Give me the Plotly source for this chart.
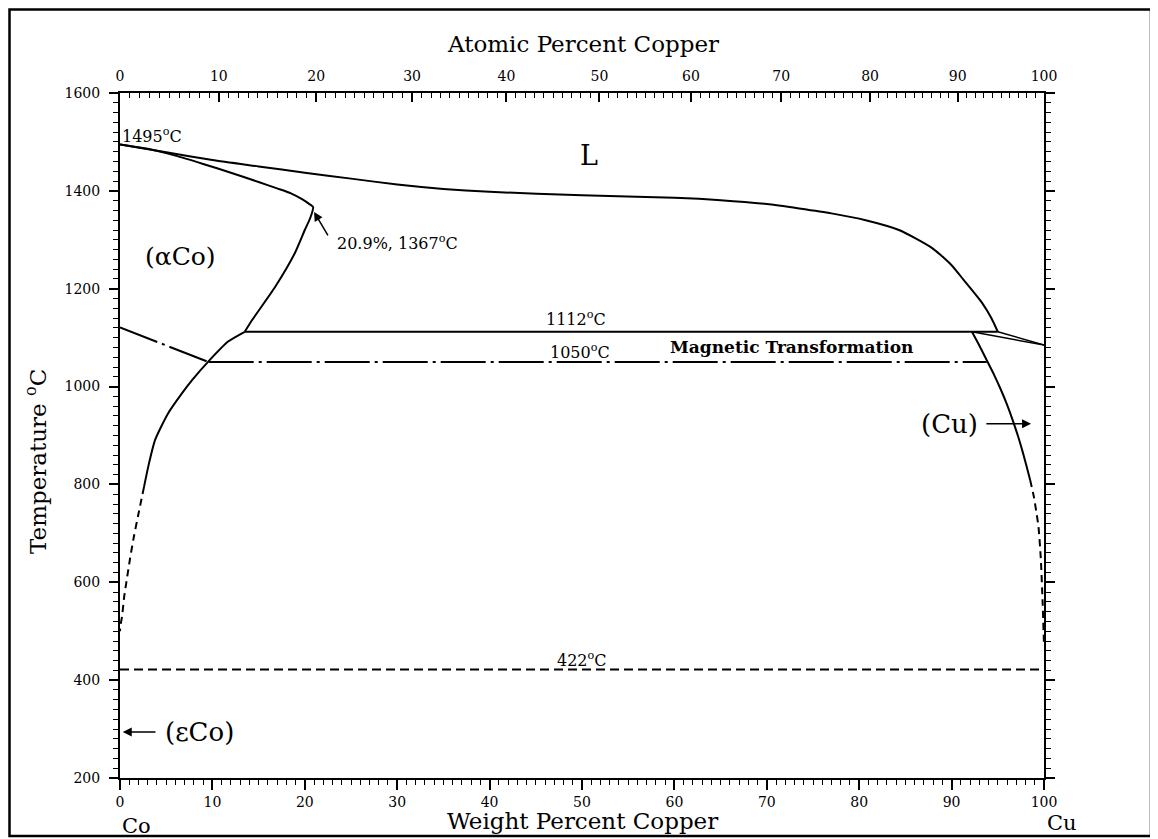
import plotly.graph_objects as go

# ---------------- data (wt% Cu, temperature in °C) ----------------
liquidus_wt = [0, 5, 10, 15, 20, 25, 30, 35, 40, 50, 60, 65, 70, 73.5, 77, 80.7, 84.3, 87.9, 90, 91.3, 93.3, 94.3, 95.0]
liquidus_T = [1495, 1479, 1463, 1450, 1437, 1425, 1413, 1404, 1398, 1391, 1386, 1381, 1373, 1364, 1354, 1340, 1320, 1283, 1248, 1218, 1171, 1140, 1112]

cu_liquidus_wt = [95.0, 100]
cu_liquidus_T = [1112, 1084.87]
cu_solidus_wt = [92.2, 100]
cu_solidus_T = [1112, 1084.87]

alpha_solidus_wt = [0, 3, 6, 9, 12, 15, 17, 18.5, 19.7, 20.5, 20.9, 20.6, 20.0, 18.9, 16.8, 14.3, 13.5]
alpha_solidus_T = [1495, 1486, 1472, 1455, 1437, 1418, 1405, 1395, 1383, 1373, 1367, 1345, 1320, 1272, 1204, 1136, 1112]

alpha_solvus_wt = [13.5, 11.7, 9.6, 7.8, 6.7, 5.2, 3.8, 3.1, 2.6]
alpha_solvus_T = [1112, 1092, 1052, 1013, 986, 945, 891, 840, 795]
alpha_solvus_dash_wt = [2.6, 2.0, 1.5, 1.1, 0.78, 0.45, 0.22, 0.05, 0]
alpha_solvus_dash_T = [795, 740, 693, 650, 611, 570, 530, 512, 500]

cu_solvus_wt = [92.2, 93.0, 93.8, 94.6, 95.3, 96.0, 96.6, 97.2, 97.7, 98.1, 98.5]
cu_solvus_T = [1112, 1084, 1054, 1024, 995, 963, 932, 898, 866, 838, 809]
cu_solvus_dash_wt = [98.5, 98.9, 99.2, 99.4, 99.65, 99.85, 100]
cu_solvus_dash_T = [809, 775, 740, 714, 650, 560, 470]

peritectic_wt = [13.5, 95.0]
peritectic_T = [1112, 1112]

magnetic_slope_wt = [0, 9.6]
magnetic_slope_T = [1121, 1050]
magnetic_wt = [9.6, 93.8]
magnetic_T = [1050, 1050]

eutectoid_wt = [0, 100]
eutectoid_T = [422, 422]

wt_ticks = list(range(0, 101, 10))
at_ticks = list(range(0, 101, 10))
at_minor = list(range(0, 101, 1))
temp_ticks = list(range(200, 1601, 200))

M_CO = 58.933
M_CU = 63.546


def at_to_wt(a):
    if a <= 0:
        return 0.0
    if a >= 100:
        return 100.0
    return 100.0 * a * M_CU / (a * M_CU + (100 - a) * M_CO)


fig = go.Figure()


def line(x, y, dash="solid", width=2, smooth=False):
    ln = dict(color="black", width=width, dash=dash)
    if smooth:
        ln.update(shape="spline", smoothing=0.6)
    fig.add_trace(go.Scatter(x=x, y=y, mode="lines", line=ln,
                             hoverinfo="skip", showlegend=False))


line(liquidus_wt, liquidus_T, smooth=True)
line(cu_liquidus_wt, cu_liquidus_T, width=1.5)
line(cu_solidus_wt, cu_solidus_T, width=1.5)
line(alpha_solidus_wt, alpha_solidus_T, smooth=True)
line(alpha_solvus_wt, alpha_solvus_T, smooth=True)
line(alpha_solvus_dash_wt, alpha_solvus_dash_T, dash="7px,5px", smooth=True)
line(cu_solvus_wt, cu_solvus_T, smooth=True)
line(cu_solvus_dash_wt, cu_solvus_dash_T, dash="7px,5px", smooth=True)
line(peritectic_wt, peritectic_T)
line(magnetic_slope_wt, magnetic_slope_T, dash="40px,5px,3px,5px")
line(magnetic_wt, magnetic_T, dash="45px,5px,3px,5px")
line(eutectoid_wt, eutectoid_T, dash="9px,5px")

# invisible trace to carry the top (atomic percent) axis
fig.add_trace(go.Scatter(x=[0, 100], y=[200, 200], xaxis="x2", mode="lines",
                         line=dict(color="rgba(0,0,0,0)"), hoverinfo="skip", showlegend=False))

SERIF = "DejaVu Serif"
tickfont = dict(family=SERIF, size=14, color="black")

# the page body has an 8px margin, so the figure is 8px smaller on each axis
fig.update_layout(
    width=1150, height=831,
    margin=dict(l=112, r=114, t=85, b=61),
    paper_bgcolor="white", plot_bgcolor="white",
    xaxis=dict(range=[0, 100], tickmode="array", tickvals=wt_ticks,
               ticktext=[str(v) for v in wt_ticks],
               ticks="outside", ticklen=10, tickwidth=1.5, tickcolor="black",
               minor=dict(tickmode="linear", tick0=0, dtick=1, ticks="outside", ticklen=5,
                          tickwidth=1.2, tickcolor="black"),
               showline=True, linecolor="black", linewidth=2,
               showgrid=False, zeroline=False, tickfont=tickfont),
    xaxis2=dict(range=[0, 100], overlaying="x", side="top", anchor="y",
                tickmode="array", tickvals=[at_to_wt(a) for a in at_ticks],
                ticktext=[str(a) for a in at_ticks],
                ticks="inside", ticklen=9, tickwidth=1.5, tickcolor="black",
                minor=dict(tickmode="array", tickvals=[at_to_wt(a) for a in at_minor],
                           ticks="inside", ticklen=5, tickwidth=1.2, tickcolor="black"),
                showline=True, linecolor="black", linewidth=2,
                showgrid=False, zeroline=False, tickfont=tickfont, ticklabelstandoff=4),
    yaxis=dict(range=[200, 1600], tickmode="array", tickvals=temp_ticks,
               ticktext=[str(v) for v in temp_ticks],
               ticks="outside", ticklen=9, tickwidth=1.5, tickcolor="black",
               minor=dict(tickmode="linear", tick0=200, dtick=20, ticks="outside", ticklen=5,
                          tickwidth=1.2, tickcolor="black"),
               showline=True, linecolor="black", linewidth=2, mirror="ticks",
               showgrid=False, zeroline=False, tickfont=tickfont, ticklabelstandoff=6),
)

# outer frame (absolute page pixels converted to plot-area paper units)
fig.add_shape(type="rect", xref="paper", yref="paper",
              x0=(9.5 - 120) / 924, x1=(1151 - 120) / 924,
              y0=(778 - 836) / 685, y1=(778 - 9.5) / 685,
              line=dict(color="black", width=2.5), fillcolor="rgba(0,0,0,0)", layer="below")


def label(x, y, text, size=15, xanchor="center", bold=False, ref="data", angle=0):
    fig.add_annotation(x=x, y=y, text=("<b>%s</b>" % text) if bold else text,
                       xref="x" if ref == "data" else "paper",
                       yref="y" if ref == "data" else "paper",
                       showarrow=False, xanchor=xanchor, yanchor="middle",
                       textangle=angle,
                       font=dict(family=SERIF, size=size, color="black"))


def arrow(x, y, ax, ay):
    fig.add_annotation(x=x, y=y, ax=ax, ay=ay, xref="x", yref="y", axref="x", ayref="y",
                       text="", showarrow=True, arrowhead=2, arrowsize=1.2,
                       arrowwidth=1.5, arrowcolor="black")


# axis titles and element names
label(0.501, (778 - 44) / 685, "Atomic Percent Copper", size=23, ref="paper")
label(0.501, (778 - 821) / 685, "Weight Percent Copper", size=23, ref="paper")
label((36 - 120) / 924, (778 - 462) / 685, "Temperature <sup>o</sup>C", size=23, ref="paper", angle=-90)
label(0.0, (778 - 826) / 685, "Co", size=21, xanchor="left", ref="paper")
label((1045 - 120) / 924, (778 - 823) / 685, "Cu", size=21, xanchor="left", ref="paper")

# phase-field and point labels
label(50.8, 1473, "L", size=27)
label(6.6, 1265, "(αCo)", size=25)
label(89.8, 924, "(Cu)", size=26)
label(8.6, 294, "(εCo)", size=26)
label(0.0, 1514, "1495<sup>o</sup>C", size=16, xanchor="left")
label(23.3, 1295, "20.9%, 1367<sup>o</sup>C", size=16, xanchor="left")
label(49.4, 1140, "1112<sup>o</sup>C", size=16)
label(49.8, 1071, "1050<sup>o</sup>C", size=16)
label(72.7, 1081, "Magnetic Transformation", size=17, bold=True)
label(100.5, 1085, "1084.87<sup>o</sup>C", size=16, xanchor="left")
label(50.0, 443, "422<sup>o</sup>C", size=16)

arrow(21.0, 1357, 22.6, 1306)
arrow(98.6, 924, 93.6, 924)
arrow(0.3, 294, 4.0, 294)

fig.write_html("out.html")
